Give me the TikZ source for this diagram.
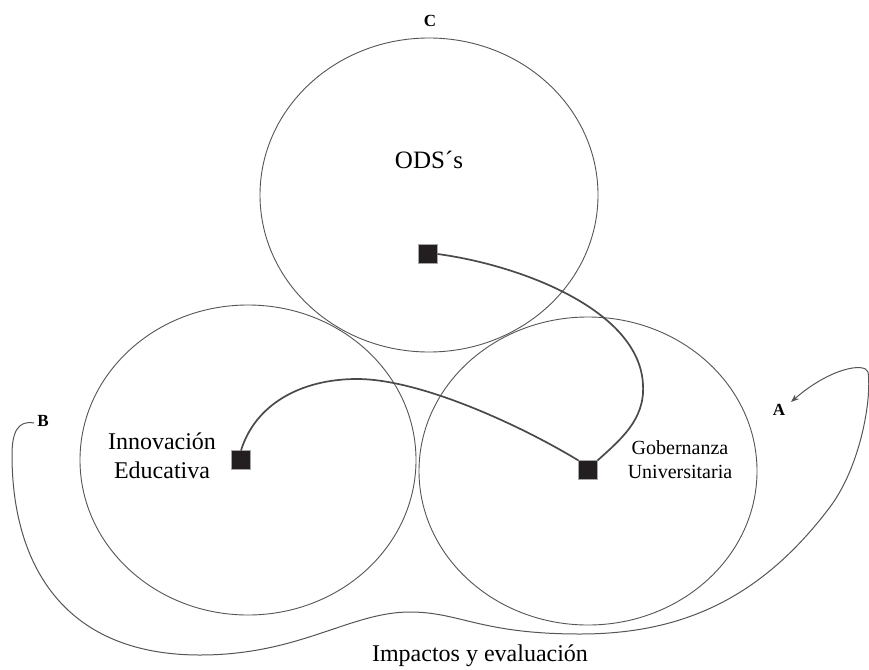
\documentclass[tikz,border=0pt]{standalone}
\usepackage{fontspec}
\setmainfont{Liberation Serif}
\usetikzlibrary{arrows.meta}
\definecolor{lineg}{HTML}{555555}
\definecolor{conn}{HTML}{4A4A4A}
\definecolor{sqfill}{HTML}{231F20}
\tikzset{
  circ/.style={draw=lineg, line width=0.9pt},
  sq/.style={draw=gray!70, fill=sqfill, line width=0.6pt, minimum size=19pt, inner sep=0pt, outer sep=0pt},
  conncurve/.style={draw=conn, line width=1.7pt},
  loopcurve/.style={draw=lineg, line width=1.0pt},
  lbl/.style={font=\fontsize{17}{20}\selectfont\bfseries, inner sep=0pt},
  big/.style={font=\fontsize{24}{29}\selectfont, inner sep=0pt, align=center},
  mid/.style={font=\fontsize{20}{24}\selectfont, inner sep=0pt, align=center},
}
\begin{document}
\begin{tikzpicture}[x=1pt,y=-1pt]
\useasboundingbox (0,0) rectangle (869,669);
\fill[white] (0,0) rectangle (869,669);
% circles
\draw[circ] (429,195) ellipse [x radius=169, y radius=157];
\draw[circ] (248,460) ellipse [x radius=168, y radius=155];
\draw[circ] (588,471) ellipse [x radius=169, y radius=154];
% texts
\node[lbl] (C) at (430,21) {C};
\node[lbl] (A) at (779,410) {A};
\node[lbl] (B) at (43,421) {B};
\node[font=\fontsize{25}{30}\selectfont, inner sep=0pt] (ods) at (429,160) {ODS´s};
\node[big] (inn) at (162,456) {Innovación\\Educativa};
\node[mid] (gob) at (680,460) {Gobernanza\\Universitaria};
\node[big] (imp) at (480,656) {Impactos y evaluación};
% squares
\node[sq] (s1) at (428,254) {};
\node[sq] (s2) at (241,460) {};
\node[sq] (s3) at (588,470) {};
% connectors
\draw[conncurve] (s2.north) .. controls (255,405) and (300,379) .. (357,379)
  .. controls (420,379) and (520,425) .. (s3.north west);
\draw[conncurve] (s1.east) .. controls (520,265) and (640,310) .. (643,385)
  .. controls (645,420) and (620,440) .. (s3.north east);
% big loop
\coordinate (bstart) at (34,423);
\coordinate (aend) at (791,402);
\draw[loopcurve, -{Stealth[length=8pt,width=6pt]}] (bstart)
  .. controls (18,420) and (12,432) .. (12,455)
  .. controls (12,560) and (60,655) .. (200,655)
  .. controls (300,655) and (350,612) .. (410,612)
  .. controls (460,612) and (480,634) .. (580,634)
  .. controls (680,634) and (760,600) .. (830,507)
  .. controls (860,467) and (872,400) .. (868,372)
  .. controls (865,362) and (830,368) .. (aend);
\end{tikzpicture}
\end{document}
